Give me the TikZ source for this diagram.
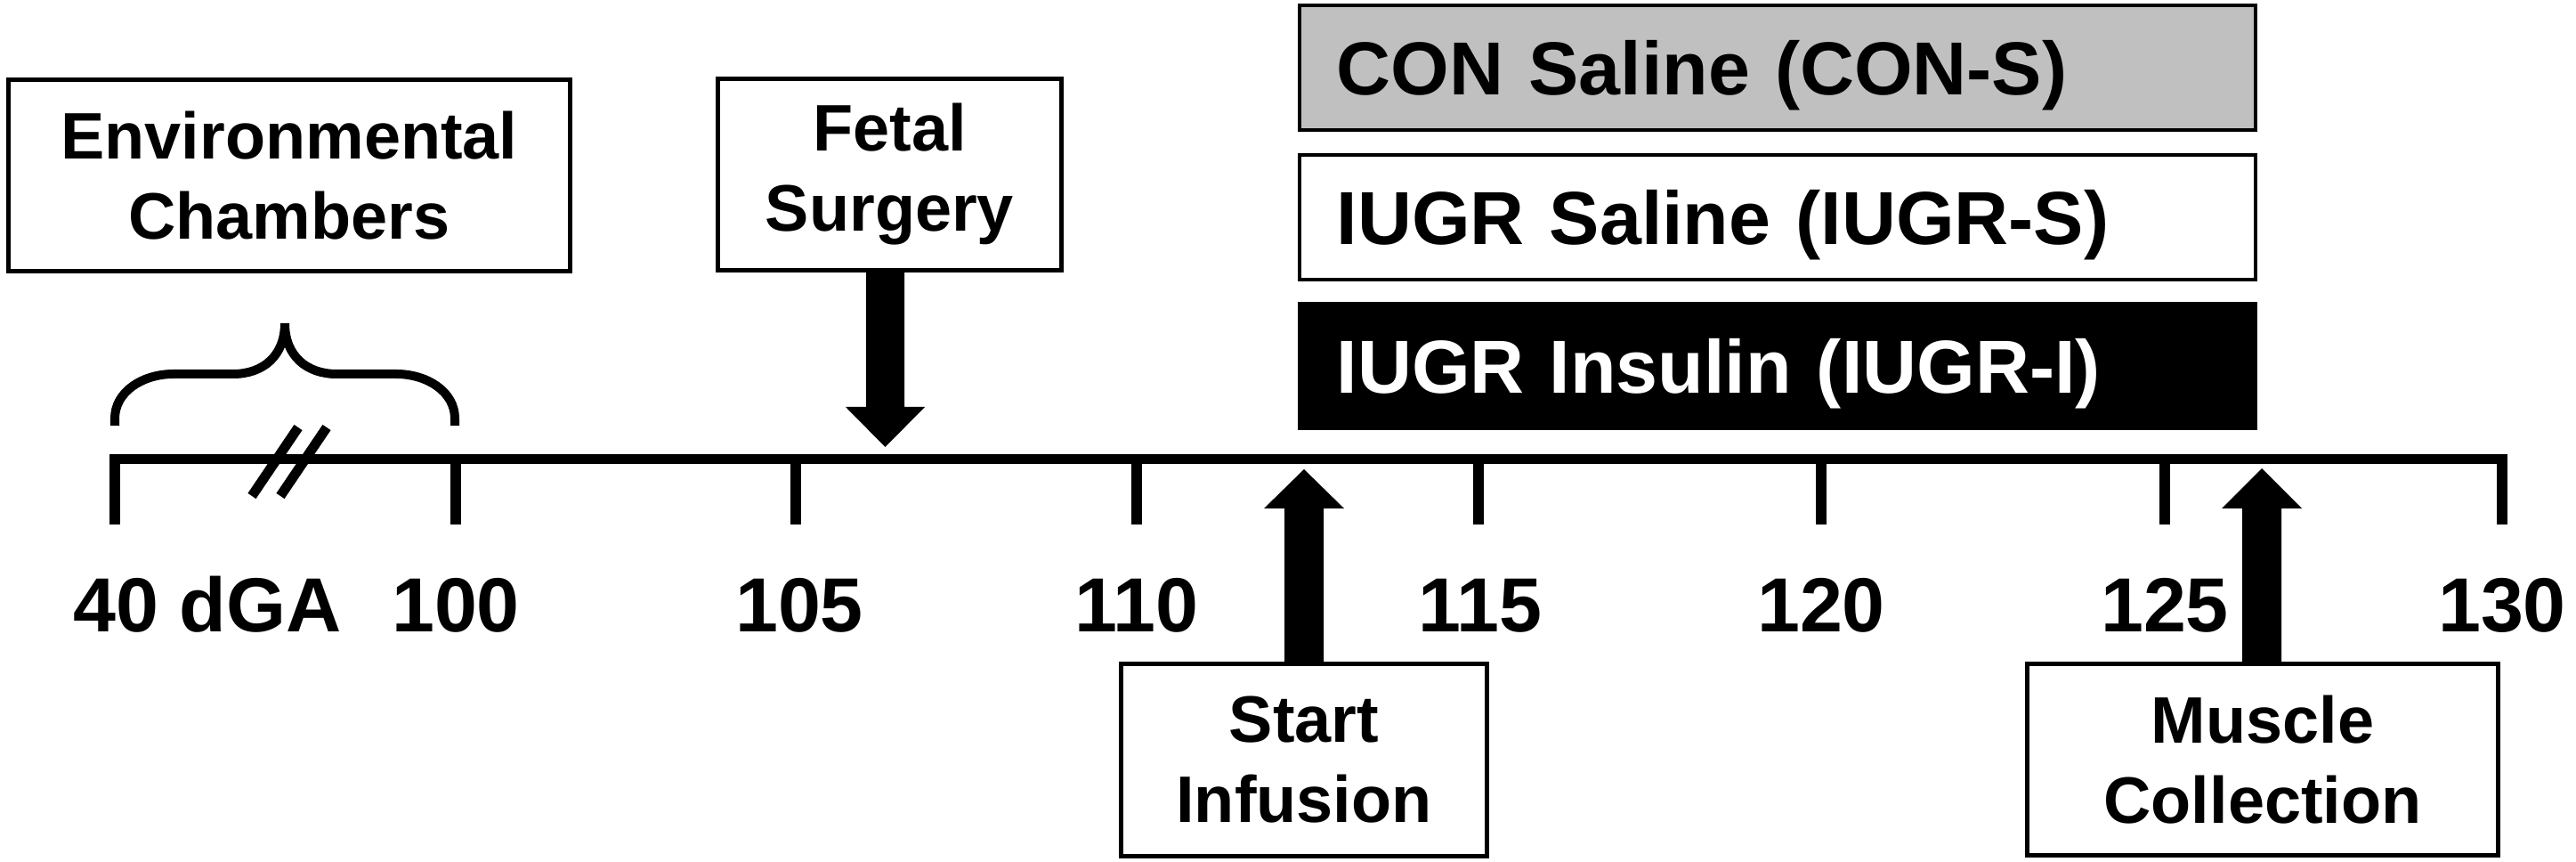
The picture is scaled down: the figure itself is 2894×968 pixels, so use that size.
\documentclass[tikz,border=0pt]{standalone}
\usepackage{fontspec}
\setmainfont{Liberation Sans}
\usetikzlibrary{calc}
\definecolor{congray}{HTML}{C0C0C0}
\begin{document}
\begin{tikzpicture}[x=0.01cm,y=-0.01cm,
  evbox/.style={draw=black, line width=1.4pt, fill=white, align=center, inner sep=0pt,
    font=\fontsize{21pt}{25.6pt}\selectfont\bfseries},
  rowbox/.style={draw=black, line width=1.1pt, minimum width=10.74cm, minimum height=1.40cm,
    inner xsep=0.42cm, inner ysep=0pt, text width=9.9cm, align=left,
    text height=0.6cm, text depth=0pt,
    font=\fontsize{24pt}{28pt}\selectfont\bfseries},
  tlabel/.style={anchor=base, inner sep=0pt, font=\fontsize{24.5pt}{29pt}\selectfont\bfseries},
  axisline/.style={line width=0.115cm},
  bracestroke/.style={line width=0.10cm, line cap=butt},
  blockarrow/.style={fill=black, draw=none}
]
\useasboundingbox (0,0) rectangle (2894,968);

% event boxes
\node[evbox, minimum width=6.31cm, minimum height=2.15cm] (env) at (325,197) {Environmental\\Chambers};
\node[evbox, minimum width=3.86cm, minimum height=2.15cm] (fs) at (999.5,196) {Fetal\\Surgery};
\node[evbox, minimum width=4.11cm, minimum height=2.16cm] (si) at (1465,853.5) {Start\\Infusion};
\node[evbox, minimum width=5.29cm, minimum height=2.15cm] (mc) at (2542,853) {Muscle\\Collection};

% treatment rows
\node[rowbox, fill=congray] (cons) at (1997,76) {CON Saline (CON-S)};
\node[rowbox, fill=white] (iugrs) at (1997,244) {IUGR Saline (IUGR-S)};
\node[rowbox, fill=black, text=white] (iugri) at (1997,411) {IUGR Insulin (IUGR-I)};

% axis and ticks
\draw[axisline] (123,515.5) -- (2817,515.5);
\foreach \x in {129,512,894,1277,1661,2046,2432,2811}
  \draw[axisline] (\x,515.5) -- (\x,589);

% axis break
\draw[line width=0.11cm] (283,557) -- (335,480);
\draw[line width=0.11cm] (315,557) -- (367,480);

% brace
\draw[bracestroke] (129,478) -- (129,470) .. controls (129,440) and (160,420) .. (195,420)
  -- (262,420) .. controls (295,420) and (320,400) .. (320,363)
  .. controls (320,400) and (345,420) .. (378,420)
  -- (445,420) .. controls (480,420) and (511,440) .. (511,470) -- (511,478);

% tick labels
\node[tlabel] (l40) at (233,710) {40 dGA};
\node[tlabel] (l100) at (512,710) {100};
\node[tlabel] (l105) at (898,710) {105};
\node[tlabel] (l110) at (1277,710) {110};
\node[tlabel] (l115) at (1663,710) {115};
\node[tlabel] (l120) at (2046,710) {120};
\node[tlabel] (l125) at (2432,710) {125};
\node[tlabel] (l130) at (2811,710) {130};

% block arrows
\coordinate (tF) at (994.5,502);
\fill[blockarrow] ($(fs.south -| tF)+(-21.5,0)$) -- ($(tF)+(-21.5,-45)$) -- ($(tF)+(-44.5,-45)$)
  -- (tF) -- ($(tF)+(44.5,-45)$) -- ($(tF)+(21.5,-45)$) -- ($(fs.south -| tF)+(21.5,0)$) -- cycle;

\coordinate (tS) at (1465,527);
\fill[blockarrow] ($(si.north -| tS)+(-22,0)$) -- ($(tS)+(-22,44)$) -- ($(tS)+(-45,44)$)
  -- (tS) -- ($(tS)+(45,44)$) -- ($(tS)+(22,44)$) -- ($(si.north -| tS)+(22,0)$) -- cycle;

\coordinate (tM) at (2541,526);
\fill[blockarrow] ($(mc.north -| tM)+(-22,0)$) -- ($(tM)+(-22,45)$) -- ($(tM)+(-45,45)$)
  -- (tM) -- ($(tM)+(45,45)$) -- ($(tM)+(22,45)$) -- ($(mc.north -| tM)+(22,0)$) -- cycle;
\end{tikzpicture}
\end{document}
